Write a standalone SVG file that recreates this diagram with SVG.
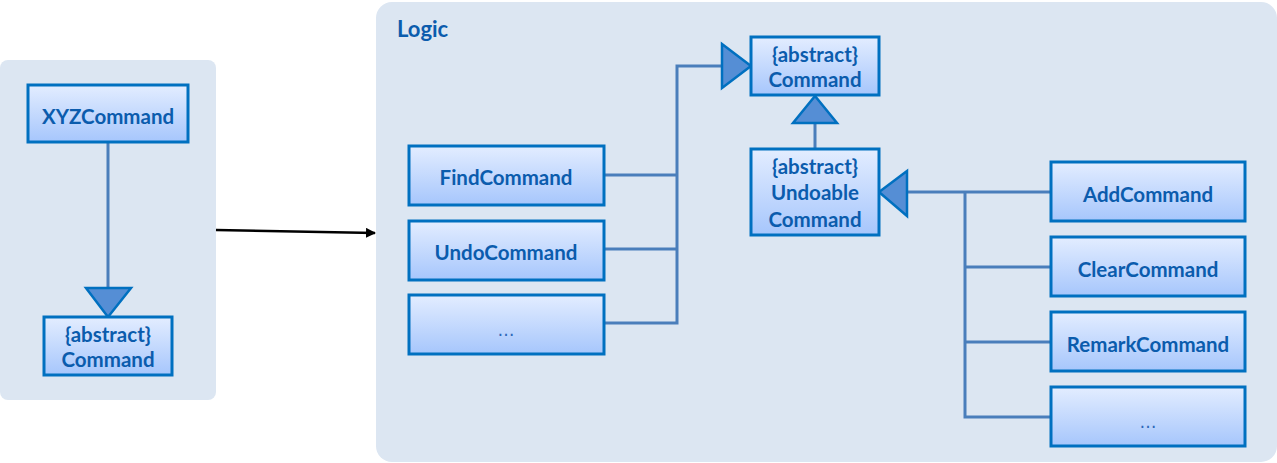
<svg xmlns="http://www.w3.org/2000/svg" width="1277" height="463" viewBox="0 0 1277 463">
<defs>
<linearGradient id="g" x1="0" y1="0" x2="0" y2="1">
<stop offset="0" stop-color="#E3EDFF"/>
<stop offset="1" stop-color="#A6C6FC"/>
</linearGradient>
<marker id="ah" markerWidth="10" markerHeight="10" refX="9" refY="5" orient="auto" markerUnits="userSpaceOnUse">
<path d="M0,0 L10,5 L0,10 z" fill="#000"/>
</marker>
<style>
.panel{fill:#DCE6F2}
.box{fill:url(#g);stroke:#0070C0;stroke-width:3}
.t{font-family:Lato,"Liberation Sans",sans-serif;font-weight:bold;font-size:20.5px;fill:#0B5CAD;text-anchor:middle}
.dots{font-family:"DejaVu Sans",sans-serif;font-size:17px;fill:#2E67B8;text-anchor:middle}
.c{fill:none;stroke:#4A7EBB;stroke-width:3}
.tri{fill:#558ED5;stroke:#0070C0;stroke-width:2.5;stroke-linejoin:miter}
</style>
</defs>
<rect class="panel" x="0" y="60" width="216" height="340" rx="8"/>
<rect class="panel" x="376" y="2" width="901" height="460" rx="16"/>
<text x="397" y="37" style="font-family:Lato,'Liberation Sans',sans-serif;font-weight:bold;font-size:22px;fill:#0B5CAD">Logic</text>

<g id="connectors">
<line class="c" x1="108" y1="142" x2="108" y2="290"/>
<polygon class="tri" points="86,288 131,288 108,317"/>
<line x1="216" y1="230" x2="375" y2="233" stroke="#000" stroke-width="2.5" marker-end="url(#ah)"/>
<polyline class="c" points="604,175 677,175"/>
<polyline class="c" points="604,249 677,249"/>
<polyline class="c" points="604,323 677,323 677,66 722,66"/>
<polygon class="tri" points="722,44 722,88 751,66"/>
<line class="c" x1="815" y1="122" x2="815" y2="149"/>
<polygon class="tri" points="793,123 837,123 815,96"/>
<polyline class="c" points="907,192 1051,192"/>
<polyline class="c" points="965,192 965,417 1051,417"/>
<line class="c" x1="965" y1="267" x2="1051" y2="267"/>
<line class="c" x1="965" y1="342" x2="1051" y2="342"/>
<polygon class="tri" points="907,171 907,216 879,192"/>
</g>

<g id="xyz"><rect class="box" x="28" y="85" width="160" height="57"/><text class="t" x="108" y="124">XYZCommand</text></g>
<g id="cmd-left"><rect class="box" x="44" y="317" width="128" height="58"/><text class="t" x="108" y="342">{abstract}</text><text class="t" x="108" y="367">Command</text></g>

<g id="cmd"><rect class="box" x="751" y="37" width="128" height="58"/><text class="t" x="815" y="62">{abstract}</text><text class="t" x="815" y="87">Command</text></g>
<g id="undoable"><rect class="box" x="751" y="149" width="128" height="86"/><text class="t" x="815" y="174">{abstract}</text><text class="t" x="815" y="200">Undoable</text><text class="t" x="815" y="227">Command</text></g>

<g id="find"><rect class="box" x="409" y="146" width="195" height="59"/><text class="t" x="506" y="185">FindCommand</text></g>
<g id="undo"><rect class="box" x="409" y="221" width="195" height="59"/><text class="t" x="506" y="260">UndoCommand</text></g>
<g id="more-left"><rect class="box" x="409" y="295" width="195" height="59"/><text class="dots" x="506" y="336">…</text></g>

<g id="add"><rect class="box" x="1051" y="162" width="194" height="59"/><text class="t" x="1148" y="202">AddCommand</text></g>
<g id="clear"><rect class="box" x="1051" y="237" width="194" height="59"/><text class="t" x="1148" y="277">ClearCommand</text></g>
<g id="remark"><rect class="box" x="1051" y="312" width="194" height="59"/><text class="t" x="1148" y="352">RemarkCommand</text></g>
<g id="more-right"><rect class="box" x="1051" y="387" width="194" height="59"/><text class="dots" x="1148" y="428">…</text></g>
</svg>
